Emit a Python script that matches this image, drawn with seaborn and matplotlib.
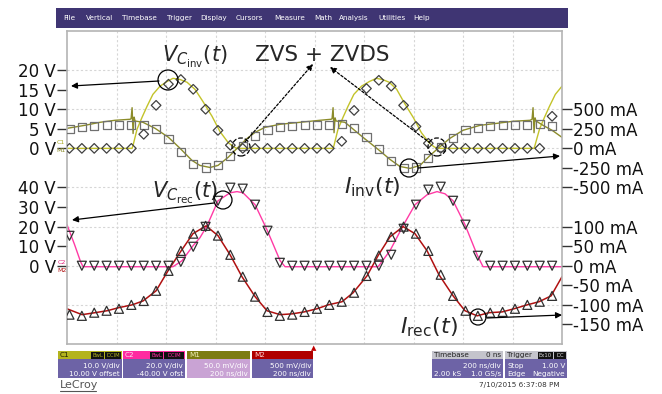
import numpy as np
import matplotlib.pyplot as plt
import seaborn as sns
from matplotlib.patches import Rectangle, Ellipse, FancyArrowPatch
from matplotlib.lines import Line2D

sns.set_style('white')
plt.rcParams['font.family'] = ['DejaVu Sans']
plt.rcParams['mathtext.fontset'] = 'dejavusans'

W, H = 662, 394

# ---- measured traces (time in ns, 200 ns/div) ----
# C1: inverter capacitor voltage (V)
t_vcinv = [-1000, -737, -733, -717, -697, -677, -653, -624, -596, -572, -543, -515, -483, -451,
           -414, -382, -349, -329, -315,
           75, 79, 95, 115, 135, 159, 190, 222, 250, 275, 302, 332, 364, 400, 432, 465, 483, 497,
           887, 891, 909, 929, 949, 973, 1000]
v_vcinv = [0, 0, 0.8, 4.9, 7.9, 10.7, 13.8, 15.9, 17.1, 17.9, 17.6, 16.9, 15.1, 12.0,
           8.2, 4.3, 1.5, 0.5, 0,
           0, 0.8, 4.9, 7.9, 10.7, 13.8, 15.9, 17.1, 17.9, 17.6, 16.9, 15.1, 11.5, 7.8, 4.0, 1.3, 0.4, 0,
           0, 0.8, 4.9, 7.9, 10.7, 13.8, 15.9]

# M1: inverter current (mA)
t_iinv = [-1000, -927, -867, -806, -745, -741, -737, -733, -729, -725, -693, -644, -590, -543,
          -495, -463, -422, -390, -349, -313, -277, -240, -200, -139, -59, 22, 67, 71, 75, 79,
          83, 87, 123, 196, 257, 305, 345, 386, 426, 467, 499, 547, 600, 669, 737, 802, 871,
          879, 883, 887, 891, 895, 923, 960, 1000]
i_iinv = [256, 295, 333, 359, 372, 380, 520, 190, 400, 350, 333, 256, 141, 0,
          -154, -218, -244, -218, -115, 0, 115, 205, 269, 308, 333, 359, 372, 380, 520, 200,
          390, 350, 333, 141, -13, -141, -231, -256, -218, -90, 0, 128, 231, 295, 320, 346, 359,
          372, 520, 200, 390, 350, 295, 231, 141]

# C2: rectifier capacitor voltage (V)
t_vcrec = [-1000, -970, -945, -935, -572, -535, -491, -463, -434, -390, -341, -313, -289, -240,
           -192, -139, -119, 257, 305, 358, 406, 455, 495, 527, 560, 608, 657, 681, 1000]
v_vcrec = [21.0, 11.0, 2.0, -0.5, -0.5, 2.6, 10.2, 14.3, 20.5, 33.2, 37.3, 37.9, 37.3, 31.2,
           18.4, 2.6, -0.5, -0.5, 7.7, 20.5, 31.2, 36.3, 37.9, 36.8, 33.2, 21.0, 5.6, -0.5, -0.5]

# M2: rectifier current (mA)
t_irec = [-1000, -939, -887, -838, -790, -737, -693, -640, -592, -539, -491, -438, -390, -341,
          -293, -240, -192, -139, -91, -42, 10, 55, 111, 156, 212, 257, 305, 358, 406, 455,
          503, 560, 608, 657, 705, 758, 806, 859, 907, 956, 1000]
i_irec = [-110, -125, -120, -115, -107, -100, -90, -64, -13, 38, 82, 102, 77, 28,
          -28, -79, -115, -125, -123, -118, -110, -100, -92, -69, -26, 26, 74, 100, 82, 38,
          -23, -77, -115, -128, -120, -118, -110, -100, -92, -77, -28]

# ---- simulation points ----
t_sim = [-990, -940, -890, -840, -790, -740, -690, -640, -590, -540, -490, -440, -390, -340,
         -290, -240, -190, -140, -90, -40, 10, 60, 110, 160, 210, 260, 310, 360, 410, 460,
         510, 560, 610, 660, 710, 760, 810, 860, 910, 960]
sim_iinv = [244, 269, 282, 295, 295, 295, 295, 244, 115, -51, -205, -244, -218, -103, 26, 154,
            231, 269, 282, 295, 295, 295, 308, 256, 141, -13, -167, -256, -244, -128, 13, 128,
            231, 256, 282, 295, 295, 295, 308, 282]
sim_vcinv = [0, 0, 0, 0, 0, 0, 3.6, 11.0, 16.4, 17.6, 15.1, 10.0, 4.6, 0.8, 0, 0, 0, 0, 0, 0,
             0, 0, 1.8, 9.7, 15.3, 17.4, 15.9, 11.0, 5.6, 1.3, 0, 0, 0, 0, 0, 0, 0, 0, 0, 8.2]
sim_vcrec = [15.3, 0, 0, 0, 0, 0, 0, 0, 0, 2.0, 9.7, 19.9, 33.2, 39.9, 39.4, 31.2, 17.9, 1.5,
             0, 0, 0, 0, 0, 0, 0, 0, 5.6, 18.9, 31.2, 38.9, 40.4, 33.2, 21.0, 5.1, 0, 0, 0, 0, 0, 0]
sim_irec = [-125, -128, -120, -115, -110, -100, -90, -64, -13, 38, 82, 102, 77, 28, -28, -79,
            -118, -128, -125, -118, -110, -100, -92, -69, -26, 26, 74, 100, 82, 38, -23, -77,
            -115, -128, -120, -118, -110, -100, -92, -77]

# axis labels
left_up = [20, 15, 10, 5, 0]          # V
left_lo = [40, 30, 20, 10, 0]         # V
right_up = [500, 250, 0, -250, -500]  # mA
right_lo = [100, 50, 0, -50, -100, -150]  # mA

# channel scales: (units per div, zero position in div)
SC_C1 = (10, 1)
SC_M1 = (500, 1)
SC_C2 = (20, -2)
SC_M2 = (100, -2)


def to_div(vals, sc):
    return sc[1] + np.asarray(vals, dtype=float) / sc[0]


def fx(x):
    return x / W


def fy(y):
    return 1 - y / H


fig = plt.figure(figsize=(W / 100, H / 100), dpi=100)
GX0, GX1, GY0, GY1 = 67, 562, 31, 344
ax = fig.add_axes([fx(GX0), fy(GY1), (GX1 - GX0) / W, (GY1 - GY0) / H])
ax.set_xlim(-1000, 1000)
ax.set_ylim(-4, 4)

for t in range(-800, 1000, 200):
    ax.axvline(t, color='#d6d6d6', lw=0.8, ls=(0, (2, 2)), zorder=0)
for d in range(-3, 4):
    ax.axhline(d, color='#d6d6d6', lw=0.8, ls=(0, (2, 2)), zorder=0)

# traces
sns.lineplot(x=t_vcinv, y=to_div(v_vcinv, SC_C1), ax=ax, color='#c3c32a', lw=1.0,
             sort=False, estimator=None)
sns.lineplot(x=t_iinv, y=to_div(i_iinv, SC_M1), ax=ax, color='#8c8c2a', lw=1.0,
             sort=False, estimator=None)
sns.lineplot(x=t_vcrec, y=to_div(v_vcrec, SC_C2), ax=ax, color='#ff3aa5', lw=1.0,
             sort=False, estimator=None)
sns.lineplot(x=t_irec, y=to_div(i_irec, SC_M2), ax=ax, color='#b01010', lw=1.1,
             sort=False, estimator=None)

# simulation markers
sns.scatterplot(x=t_sim, y=to_div(sim_iinv, SC_M1), ax=ax, marker='s', s=34,
                facecolor='none', edgecolor='#707070', linewidth=0.9, zorder=4)
sns.scatterplot(x=t_sim, y=to_div(sim_vcinv, SC_C1), ax=ax, marker='D', s=24,
                facecolor='none', edgecolor='#404040', linewidth=0.9, zorder=4)
sns.scatterplot(x=t_sim, y=to_div(sim_vcrec, SC_C2), ax=ax, marker='v', s=42,
                facecolor='none', edgecolor='#303030', linewidth=0.9, zorder=4)
sns.scatterplot(x=t_sim, y=to_div(sim_irec, SC_M2), ax=ax, marker='^', s=42,
                facecolor='none', edgecolor='#303030', linewidth=0.9, zorder=4)

ax.set_xticks([])
lt = list(to_div(left_up, SC_C1)) + list(to_div(left_lo, SC_C2))
ll = [f'{v} V' for v in left_up] + [f'{v} V' for v in left_lo]
ax.set_yticks(lt, ll)
ax.tick_params(axis='y', left=True, length=7, width=1, color='#333333', pad=1, labelsize=12,
               labelcolor='#111111')
for s in ax.spines.values():
    s.set_color('#b4b4b4')
    s.set_linewidth(1.2)
ax.set_xlabel('')
ax.set_ylabel('')

ax2 = ax.twinx()
ax2.set_ylim(-4, 4)
rt = list(to_div(right_up, SC_M1)) + list(to_div(right_lo, SC_M2))
rl = [f'{v} mA' for v in right_up] + [f'{v} mA' for v in right_lo]
ax2.set_yticks(rt, rl)
ax2.tick_params(axis='y', right=True, length=7, width=1, color='#333333', pad=1, labelsize=12,
                labelcolor='#111111')
for s in ax2.spines.values():
    s.set_visible(False)

# ---- annotations (pixel layout) ----
def circ(x, y, r, ls='-'):
    fig.add_artist(Ellipse((fx(x), fy(y)), 2 * r / W, 2 * r / H, transform=fig.transFigure,
                           fill=False, ec='black', lw=0.9, ls=ls, zorder=10))


def arrow(x0, y0, x1, y1, ls='-'):
    fig.add_artist(FancyArrowPatch((fx(x0), fy(y0)), (fx(x1), fy(y1)), transform=fig.transFigure,
                                   arrowstyle='-|>', mutation_scale=9, lw=0.9, ls=ls,
                                   color='black', shrinkA=0, shrinkB=0, zorder=10))


circ(168, 80, 10)
circ(241, 147, 9, '--')
circ(437, 147, 9, '--')
circ(223, 200, 9)
circ(409, 168, 9)
circ(478, 317, 8)

arrow(159, 81, 71, 86)
arrow(214, 203, 72, 220)
arrow(418, 168, 560, 156)
arrow(487, 318, 562, 315)
arrow(245, 142, 313, 64, ls=(0, (2, 1.5)))
arrow(430, 143, 330, 67, ls=(0, (2, 1.5)))

fig.text(fx(162), fy(62), r'$V_{C_{\mathrm{inv}}}(t)$', fontsize=15, ha='left', va='baseline')
fig.text(fx(322), fy(61), 'ZVS + ZVDS', fontsize=15.5, ha='center', va='baseline')
fig.text(fx(152), fy(198), r'$V_{C_{\mathrm{rec}}}(t)$', fontsize=15, ha='left', va='baseline')
fig.text(fx(344), fy(193), r'$I_{\mathrm{inv}}(t)$', fontsize=16, ha='left', va='baseline')
fig.text(fx(400), fy(333), r'$I_{\mathrm{rec}}(t)$', fontsize=16, ha='left', va='baseline')

# channel ground markers
fig.text(fx(61), fy(142), 'C1', fontsize=4.5, color='#a8a820', ha='center', va='center')
fig.text(fx(61), fy(151), 'M1', fontsize=4.5, color='#8c8c2a', ha='center', va='center')
fig.text(fx(62), fy(263), 'C2', fontsize=4.5, color='#e0207a', ha='center', va='center')
fig.text(fx(62), fy(270), 'M2', fontsize=4.5, color='#b01010', ha='center', va='center')


# ---- scope chrome ----
def rect(x0, y0, x1, y1, fc):
    fig.add_artist(Rectangle((fx(x0), fy(y1)), (x1 - x0) / W, (y1 - y0) / H,
                             transform=fig.transFigure, fc=fc, ec='none', zorder=1))


def txt(x, y, s, size=5.2, color='white', ha='left'):
    fig.text(fx(x), fy(y), s, fontsize=size, color=color, ha=ha, va='center', zorder=3)


rect(56, 8, 568, 28, '#3f3573')
menu = ['File', 'Vertical', 'Timebase', 'Trigger', 'Display', 'Cursors', 'Measure', 'Math',
        'Analysis', 'Utilities', 'Help']
menu_x = [63, 86, 122, 167, 200, 236, 274, 314, 339, 378, 413]
for m, x in zip(menu, menu_x):
    txt(x, 18, m, size=5.2)

BODY = '#6d63a6'


def badge(x0, x1, s, fg):
    rect(x0, 352, x1, 358.5, '#111111')
    txt((x0 + x1) / 2, 355.3, s, size=3.8, color=fg, ha='center')


# C1
rect(58, 351, 122, 378, BODY)
rect(58, 351, 122, 359, '#b4b41e')
txt(60, 355, 'C1', color='#222200')
badge(91, 104, 'BwL', '#b4b41e')
badge(105, 121, 'DCIM', '#b4b41e')
txt(120, 366, '10.0 V/div', ha='right')
txt(120, 374, '10.00 V offset', ha='right')
# C2
rect(123, 351, 185, 378, BODY)
rect(123, 351, 185, 359, '#ff2aa0')
txt(125, 355, 'C2', color='#ffe0f0')
badge(150, 163, 'BwL', '#ff2aa0')
badge(164, 184, 'DCIM', '#ff2aa0')
txt(183, 366, '20.0 V/div', ha='right')
txt(183, 374, '-40.00 V ofst', ha='right')
# M1
rect(187, 351, 250, 378, '#c9a3d4')
rect(187, 351, 250, 359, '#7c7c12')
txt(189, 355, 'M1', color='#eeeebb')
txt(248, 366, '50.0 mV/div', ha='right')
txt(248, 374, '200 ns/div', ha='right')
# M2
rect(252, 351, 313, 378, BODY)
rect(252, 351, 313, 359, '#b00000')
txt(254, 355, 'M2', color='#ffd0d0')
txt(311, 366, '500 mV/div', ha='right')
txt(311, 374, '200 ns/div', ha='right')
# Timebase
rect(432, 351, 503, 378, BODY)
rect(432, 351, 503, 359, '#c4c4cc')
txt(434, 355, 'Timebase', color='#222222')
txt(501, 355, '0 ns', color='#222222', ha='right')
txt(501, 366, '200 ns/div', ha='right')
txt(434, 374, '2.00 kS')
txt(501, 374, '1.0 GS/s', ha='right')
# Trigger
rect(505, 351, 567, 378, BODY)
rect(505, 351, 567, 359, '#c4c4cc')
txt(507, 355, 'Trigger', color='#222222')
badge(538, 553, 'Ex10', '#dddddd')
badge(554, 566, 'DC', '#dddddd')
txt(507, 366, 'Stop')
txt(565, 366, '1.00 V', ha='right')
txt(507, 374, 'Edge')
txt(565, 374, 'Negative', ha='right')

txt(314, 348, '▲', size=5, color='#c00000', ha='center')
txt(60, 385, 'LeCroy', size=8, color='#555555')
fig.add_artist(Line2D([fx(60), fx(96)], [fy(391), fy(391)], transform=fig.transFigure,
                      color='#555555', lw=0.8))
txt(560, 385, '7/10/2015 6:37:08 PM', size=5.2, color='#333333', ha='right')

fig.savefig('out.png', dpi=100, facecolor='white')
plt.close(fig)
